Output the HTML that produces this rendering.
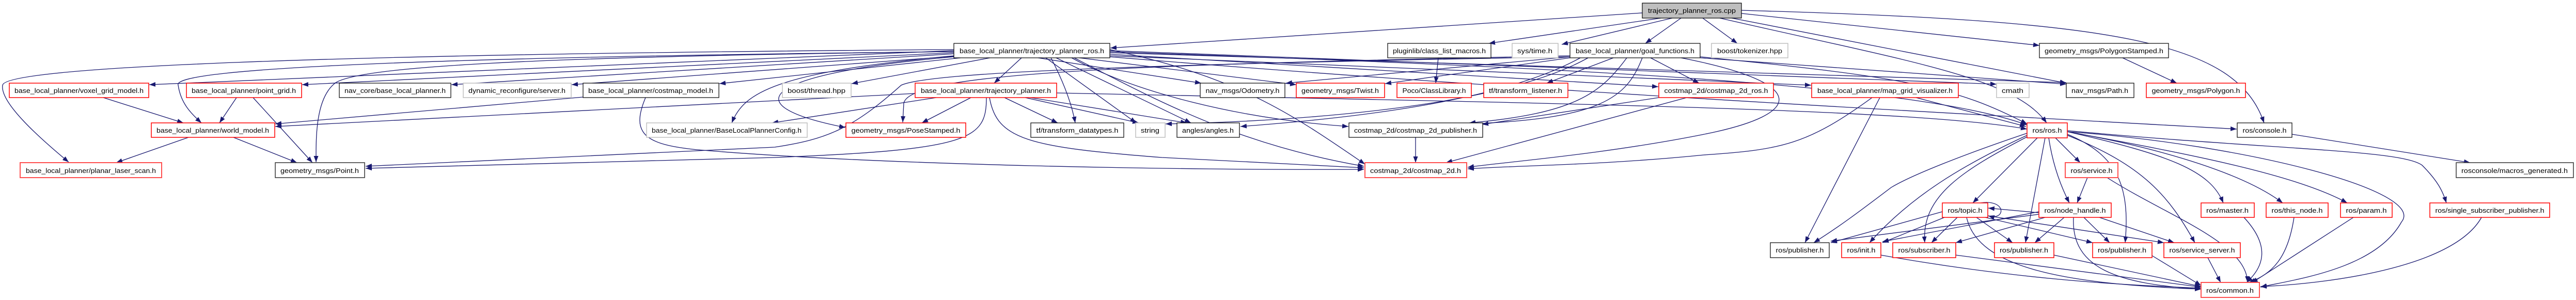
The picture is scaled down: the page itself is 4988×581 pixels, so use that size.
<!DOCTYPE html>
<html><head><meta charset="utf-8"><style>
html,body{margin:0;padding:0;background:#fff;}
svg{display:block;}
text{font-family:"Liberation Sans",sans-serif;font-size:13px;fill:#000;}
.r{fill:#fff;stroke:#ff0000;stroke-width:1.5}
.rl{fill:#fff;stroke:#ff5050;stroke-width:2}
.b{fill:#fff;stroke:#000;stroke-width:1.2}
.g{fill:#fff;stroke:#bfbfbf;stroke-width:1.5}
.e path{fill:none;stroke:#191970;stroke-width:1.3;marker-end:url(#a)}
</style></head><body>
<svg width="4988" height="581" viewBox="0 0 4988 581" xmlns="http://www.w3.org/2000/svg">
<defs><marker id="a" markerUnits="userSpaceOnUse" markerWidth="12" markerHeight="9" refX="12" refY="4.5" orient="auto"><path d="M0,0 L12,4.5 L0,9 z" fill="#191970"/></marker></defs>
<g class="e">
<path d="M3180,25 L2150,93"/>
<path d="M3216,35 L2883,84"/>
<path d="M3238,35 L3024,86"/>
<path d="M3255,35 L3186,84"/>
<path d="M3297,35 L3364,84"/>
<path d="M3372,26 L3949,88"/>
<path d="M3353,35 L4001,161"/>
<path d="M3372,20 C4100,40 4330,80 4384,238"/>
<path d="M3330,35 C3700,120 3900,150 3963,238"/>
<path d="M1847,98 L289,164"/>
<path d="M1847,102 L585,164"/>
<path d="M1850,104 L874,164"/>
<path d="M1860,108 L1107,164"/>
<path d="M1860,112 L1393,162"/>
<path d="M1917,112 L1649,162"/>
<path d="M1978,112 L1925,161"/>
<path d="M1847,108 C1500,140 1440,180 1417,238"/>
<path d="M1847,110 C1500,140 1400,200 1637,247"/>
<path d="M1847,100 C900,110 330,130 345,165 C350,200 370,220 390,238"/>
<path d="M1847,96 C600,105 10,130 5,165 C0,200 80,270 133,314"/>
<path d="M1847,100 C1000,110 700,130 650,160 C610,190 612,270 612,314"/>
<path d="M2010,112 L2326,161"/>
<path d="M2090,112 L2510,164"/>
<path d="M2035,112 C2060,160 2075,200 2082,238"/>
<path d="M2025,112 L2200,238"/>
<path d="M2045,112 L2306,238"/>
<path d="M2075,112 C2200,180 2400,230 2611,245"/>
<path d="M2080,112 C2250,200 2400,280 2641,322"/>
<path d="M2149,105 L3211,168"/>
<path d="M2149,108 L3507,165"/>
<path d="M2149,100 C3000,130 3700,160 3925,242"/>
<path d="M2149,102 L4001,160"/>
<path d="M2149,110 C3000,180 3800,220 4331,250"/>
<path d="M2149,98 L3866,163"/>
<path d="M1772,181 L533,245"/>
<path d="M1813,189 L1495,238"/>
<path d="M1880,189 L1785,238"/>
<path d="M1945,189 L2048,238"/>
<path d="M1985,189 L2205,238"/>
<path d="M1995,189 L2298,238"/>
<path d="M1910,189 C1910,270 1880,290 1500,305 L708,326"/>
<path d="M1916,189 C1930,270 1990,285 2250,305 L2641,325"/>
<path d="M2046,180 C3000,200 3700,210 3925,250"/>
<path d="M1129,188 L533,240"/>
<path d="M1250,189 C1220,260 1250,280 1350,290 C1700,320 2300,330 2641,328"/>
<path d="M3040,110 C2200,125 1800,140 1745,165 C1650,250 1600,270 1500,285 L708,322"/>
<path d="M3040,108 C2200,125 1760,140 1750,200 L1748,237"/>
<path d="M3040,112 L2682,162"/>
<path d="M3124,112 L2995,161"/>
<path d="M3196,112 L3290,161"/>
<path d="M3150,112 C3100,180 3050,220 2845,238"/>
<path d="M3180,112 C3150,190 3100,230 2845,240"/>
<path d="M3255,112 C3500,160 3500,220 3300,260 C3100,300 2900,315 2842,324"/>
<path d="M3040,110 L2490,161"/>
<path d="M3292,110 C3700,150 3790,170 3925,240"/>
<path d="M3292,112 L4001,163"/>
<path d="M3060,112 C2900,200 2600,230 2402,245"/>
<path d="M3075,112 C2900,210 2500,235 2257,240"/>
<path d="M2785,112 L2780,161"/>
<path d="M3212,189 L2870,241"/>
<path d="M3266,189 L2800,315"/>
<path d="M3640,189 L3495,470"/>
<path d="M3625,189 C3500,280 3450,290 3300,300 C3100,320 2950,320 2842,327"/>
<path d="M3710,189 L3923,245"/>
<path d="M3925,258 C3800,300 3700,340 3662,363 C3600,410 3560,440 3512,470"/>
<path d="M3925,262 C3800,320 3700,380 3620,470"/>
<path d="M3925,265 C3800,330 3720,380 3727,470"/>
<path d="M3945,267 L3820,393"/>
<path d="M3960,267 L3922,470"/>
<path d="M3967,267 C3975,320 3990,360 4007,393"/>
<path d="M3980,267 L4028,315"/>
<path d="M4003,260 C4100,300 4125,360 4115,470"/>
<path d="M4003,262 C4150,320 4200,380 4250,470"/>
<path d="M4003,255 C4200,300 4280,330 4305,393"/>
<path d="M4003,255 C4200,290 4350,340 4420,393"/>
<path d="M4003,255 C4250,300 4450,340 4545,393"/>
<path d="M4003,255 C4350,280 4700,370 4650,430 C4600,520 4450,540 4377,556"/>
<path d="M4003,253 C4400,290 4650,290 4690,320 C4720,350 4730,370 4737,393"/>
<path d="M4345,421 C4400,480 4380,520 4350,547"/>
<path d="M4442,421 C4430,500 4400,530 4355,547"/>
<path d="M4557,421 L4360,548"/>
<path d="M4805,421 C4750,520 4500,550 4377,555"/>
<path d="M4080,344 C4200,420 4350,470 4352,547"/>
<path d="M4042,344 L4022,393"/>
<path d="M4438,260 L4783,315"/>
<path d="M4110,112 L4215,161"/>
<path d="M4275,499 L4300,547"/>
<path d="M4167,495 L4262,553"/>
<path d="M3977,494 L4262,555"/>
<path d="M3642,494 C3900,540 4100,552 4262,558"/>
<path d="M3787,494 L4262,556"/>
<path d="M3761,410 L3545,470"/>
<path d="M3765,421 L3645,470"/>
<path d="M3790,421 L3740,470"/>
<path d="M3827,421 L3897,470"/>
<path d="M3840,420 L4052,470"/>
<path d="M3849,418 L4190,470"/>
<path d="M3808,421 C3830,520 4000,550 4262,560"/>
<path d="M3835,393 C3885,385 3885,428 3850,418"/>
<path d="M3948,415 L3545,467"/>
<path d="M3948,410 L3645,468"/>
<path d="M3960,421 L3787,470"/>
<path d="M3997,421 L3940,470"/>
<path d="M4035,421 L4085,470"/>
<path d="M4065,421 L4210,470"/>
<path d="M4015,421 C4010,520 4100,550 4262,560"/>
<path d="M3948,412 L3850,403"/>
<path d="M200,189 L355,238"/>
<path d="M458,189 L425,238"/>
<path d="M490,189 L605,315"/>
<path d="M365,266 L225,315"/>
<path d="M452,266 L575,315"/>
<path d="M2741,266 L2741,315"/>
<path d="M2149,96 C2400,150 2500,220 2643,318"/>
</g>
<g>
<rect x="3180" y="6" width="192" height="29" style="fill:#bfbfbf;stroke:#000;stroke-width:1.2"/><text x="3276" y="25" text-anchor="middle" textLength="170" lengthAdjust="spacingAndGlyphs">trajectory_planner_ros.cpp</text>

<rect class="b" x="1847" y="84" width="302" height="28"/><text x="1998" y="103" text-anchor="middle" textLength="280" lengthAdjust="spacingAndGlyphs">base_local_planner/trajectory_planner_ros.h</text>
<rect class="b" x="2687" y="84" width="200" height="28"/><text x="2787" y="103" text-anchor="middle" textLength="180" lengthAdjust="spacingAndGlyphs">pluginlib/class_list_macros.h</text>
<rect class="g" x="2928" y="84" width="89" height="28"/><text x="2972" y="103" text-anchor="middle" textLength="68" lengthAdjust="spacingAndGlyphs">sys/time.h</text>
<rect class="b" x="3040" y="84" width="252" height="28"/><text x="3166" y="103" text-anchor="middle" textLength="230" lengthAdjust="spacingAndGlyphs">base_local_planner/goal_functions.h</text>
<rect class="g" x="3314" y="84" width="148" height="28"/><text x="3388" y="103" text-anchor="middle" textLength="126" lengthAdjust="spacingAndGlyphs">boost/tokenizer.hpp</text>
<rect class="b" x="3949" y="84" width="250" height="28"/><text x="4074" y="103" text-anchor="middle" textLength="230" lengthAdjust="spacingAndGlyphs">geometry_msgs/PolygonStamped.h</text>

<rect class="r" x="18" y="161" width="270" height="28"/><text x="153" y="180" text-anchor="middle" textLength="250" lengthAdjust="spacingAndGlyphs">base_local_planner/voxel_grid_model.h</text>
<rect class="r" x="361" y="161" width="223" height="28"/><text x="472" y="180" text-anchor="middle" textLength="202" lengthAdjust="spacingAndGlyphs">base_local_planner/point_grid.h</text>
<rect class="b" x="657" y="161" width="216" height="28"/><text x="765" y="180" text-anchor="middle" textLength="196" lengthAdjust="spacingAndGlyphs">nav_core/base_local_planner.h</text>
<rect class="g" x="897" y="161" width="209" height="28"/><text x="1001" y="180" text-anchor="middle" textLength="188" lengthAdjust="spacingAndGlyphs">dynamic_reconfigure/server.h</text>
<rect class="b" x="1129" y="161" width="263" height="28"/><text x="1260" y="180" text-anchor="middle" textLength="242" lengthAdjust="spacingAndGlyphs">base_local_planner/costmap_model.h</text>
<rect class="g" x="1515" y="161" width="133" height="28"/><text x="1581" y="180" text-anchor="middle" textLength="112" lengthAdjust="spacingAndGlyphs">boost/thread.hpp</text>
<rect class="r" x="1772" y="161" width="274" height="28"/><text x="1909" y="180" text-anchor="middle" textLength="252" lengthAdjust="spacingAndGlyphs">base_local_planner/trajectory_planner.h</text>
<rect class="b" x="2324" y="161" width="164" height="28"/><text x="2406" y="180" text-anchor="middle" textLength="143" lengthAdjust="spacingAndGlyphs">nav_msgs/Odometry.h</text>
<rect class="r" x="2510" y="161" width="171" height="28"/><text x="2595" y="180" text-anchor="middle" textLength="150" lengthAdjust="spacingAndGlyphs">geometry_msgs/Twist.h</text>
<rect class="r" x="2705" y="161" width="144" height="28"/><text x="2777" y="180" text-anchor="middle" textLength="123" lengthAdjust="spacingAndGlyphs">Poco/ClassLibrary.h</text>
<rect class="r" x="2873" y="161" width="163" height="28"/><text x="2954" y="180" text-anchor="middle" textLength="142" lengthAdjust="spacingAndGlyphs">tf/transform_listener.h</text>
<rect class="r" x="3212" y="161" width="222" height="28"/><text x="3323" y="180" text-anchor="middle" textLength="201" lengthAdjust="spacingAndGlyphs">costmap_2d/costmap_2d_ros.h</text>
<rect class="r" x="3508" y="161" width="284" height="28"/><text x="3650" y="180" text-anchor="middle" textLength="262" lengthAdjust="spacingAndGlyphs">base_local_planner/map_grid_visualizer.h</text>
<rect class="g" x="3866" y="161" width="63" height="28"/><text x="3897" y="180" text-anchor="middle" textLength="42" lengthAdjust="spacingAndGlyphs">cmath</text>
<rect class="b" x="4001" y="161" width="131" height="28"/><text x="4066" y="180" text-anchor="middle" textLength="110" lengthAdjust="spacingAndGlyphs">nav_msgs/Path.h</text>
<rect class="r" x="4156" y="161" width="192" height="28"/><text x="4252" y="180" text-anchor="middle" textLength="171" lengthAdjust="spacingAndGlyphs">geometry_msgs/Polygon.h</text>

<rect class="r" x="293" y="238" width="239" height="28"/><text x="412" y="257" text-anchor="middle" textLength="218" lengthAdjust="spacingAndGlyphs">base_local_planner/world_model.h</text>
<rect class="g" x="1252" y="238" width="311" height="28"/><text x="1407" y="257" text-anchor="middle" textLength="290" lengthAdjust="spacingAndGlyphs">base_local_planner/BaseLocalPlannerConfig.h</text>
<rect class="r" x="1638" y="238" width="232" height="28"/><text x="1754" y="257" text-anchor="middle" textLength="211" lengthAdjust="spacingAndGlyphs">geometry_msgs/PoseStamped.h</text>
<rect class="b" x="1996" y="238" width="180" height="28"/><text x="2086" y="257" text-anchor="middle" textLength="159" lengthAdjust="spacingAndGlyphs">tf/transform_datatypes.h</text>
<rect class="g" x="2199" y="238" width="57" height="28"/><text x="2227" y="257" text-anchor="middle" textLength="36" lengthAdjust="spacingAndGlyphs">string</text>
<rect class="b" x="2279" y="238" width="121" height="28"/><text x="2339" y="257" text-anchor="middle" textLength="100" lengthAdjust="spacingAndGlyphs">angles/angles.h</text>
<rect class="b" x="2612" y="238" width="259" height="28"/><text x="2741" y="257" text-anchor="middle" textLength="238" lengthAdjust="spacingAndGlyphs">costmap_2d/costmap_2d_publisher.h</text>
<rect class="r" x="3925" y="238" width="78" height="29"/><text x="3964" y="257" text-anchor="middle" textLength="57" lengthAdjust="spacingAndGlyphs">ros/ros.h</text>
<rect class="b" x="4332" y="238" width="106" height="28"/><text x="4385" y="257" text-anchor="middle" textLength="85" lengthAdjust="spacingAndGlyphs">ros/console.h</text>

<rect class="rl" x="39" y="315" width="274" height="29"/><text x="176" y="335" text-anchor="middle" textLength="252" lengthAdjust="spacingAndGlyphs">base_local_planner/planar_laser_scan.h</text>
<rect class="b" x="533" y="315" width="173" height="29" style="stroke:#404040;stroke-width:1.6"/><text x="619" y="335" text-anchor="middle" textLength="152" lengthAdjust="spacingAndGlyphs">geometry_msgs/Point.h</text>
<rect class="rl" x="2643" y="315" width="197" height="29"/><text x="2741" y="335" text-anchor="middle" textLength="176" lengthAdjust="spacingAndGlyphs">costmap_2d/costmap_2d.h</text>
<rect class="rl" x="3999" y="315" width="102" height="29"/><text x="4050" y="335" text-anchor="middle" textLength="81" lengthAdjust="spacingAndGlyphs">ros/service.h</text>
<rect class="b" x="4756" y="315" width="227" height="29" style="stroke:#404040;stroke-width:1.6"/><text x="4869" y="335" text-anchor="middle" textLength="206" lengthAdjust="spacingAndGlyphs">rosconsole/macros_generated.h</text>

<rect class="r" x="3761" y="393" width="88" height="28"/><text x="3805" y="412" text-anchor="middle" textLength="67" lengthAdjust="spacingAndGlyphs">ros/topic.h</text>
<rect class="r" x="3948" y="393" width="140" height="28"/><text x="4018" y="412" text-anchor="middle" textLength="119" lengthAdjust="spacingAndGlyphs">ros/node_handle.h</text>
<rect class="r" x="4262" y="393" width="103" height="28"/><text x="4313" y="412" text-anchor="middle" textLength="82" lengthAdjust="spacingAndGlyphs">ros/master.h</text>
<rect class="r" x="4388" y="393" width="120" height="28"/><text x="4448" y="412" text-anchor="middle" textLength="99" lengthAdjust="spacingAndGlyphs">ros/this_node.h</text>
<rect class="r" x="4532" y="393" width="100" height="28"/><text x="4582" y="412" text-anchor="middle" textLength="79" lengthAdjust="spacingAndGlyphs">ros/param.h</text>
<rect class="r" x="4705" y="393" width="232" height="28"/><text x="4821" y="412" text-anchor="middle" textLength="211" lengthAdjust="spacingAndGlyphs">ros/single_subscriber_publisher.h</text>

<rect class="b" x="3428" y="470" width="114" height="29"/><text x="3485" y="489" text-anchor="middle" textLength="93" lengthAdjust="spacingAndGlyphs">ros/publisher.h</text>
<rect class="r" x="3566" y="470" width="76" height="29"/><text x="3604" y="489" text-anchor="middle" textLength="55" lengthAdjust="spacingAndGlyphs">ros/init.h</text>
<rect class="r" x="3665" y="470" width="122" height="29"/><text x="3726" y="489" text-anchor="middle" textLength="101" lengthAdjust="spacingAndGlyphs">ros/subscriber.h</text>
<rect class="r" x="3862" y="470" width="115" height="29"/><text x="3919" y="489" text-anchor="middle" textLength="94" lengthAdjust="spacingAndGlyphs">ros/publisher.h</text>
<rect class="r" x="4052" y="470" width="115" height="29"/><text x="4109" y="489" text-anchor="middle" textLength="94" lengthAdjust="spacingAndGlyphs">ros/publisher.h</text>
<rect class="r" x="4190" y="470" width="148" height="29"/><text x="4264" y="489" text-anchor="middle" textLength="127" lengthAdjust="spacingAndGlyphs">ros/service_server.h</text>

<rect class="rl" x="4262" y="547" width="113" height="29"/><text x="4318" y="567" text-anchor="middle" textLength="92" lengthAdjust="spacingAndGlyphs">ros/common.h</text>
</g>
</svg>
</body></html>
